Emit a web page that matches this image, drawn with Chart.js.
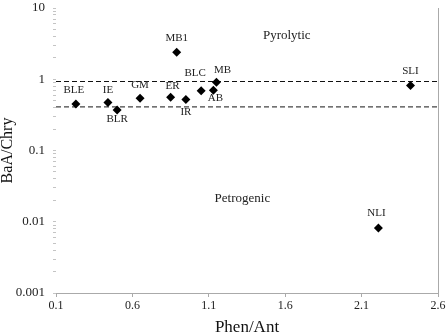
<!DOCTYPE html>
<html>
<head>
<meta charset="utf-8">
<script src="https://cdn.jsdelivr.net/npm/chart.js@4.4.0/dist/chart.umd.min.js"></script>
<style>
html, body { margin: 0; padding: 0; background: #fff; }
</style>
</head>
<body>
<canvas id="ratio_plot" width="448" height="336"></canvas>
<script>
const siteNames = ['BLE', 'IE', 'BLR', 'GM', 'ER', 'IR', 'BLC', 'AB', 'MB', 'MB1', 'SLI', 'NLI'];
const phenAnt = [0.23, 0.44, 0.50, 0.65, 0.85, 0.95, 1.05, 1.13, 1.15, 0.89, 2.42, 2.21];
const baaChry = [0.45, 0.47, 0.37, 0.54, 0.56, 0.52, 0.69, 0.70, 0.91, 2.39, 0.82, 0.0082];
const upperLimit = 0.93;
const lowerLimit = 0.41;
const xTicks = [0.1, 0.6, 1.1, 1.6, 2.1, 2.6];
const yTicks = [0.001, 0.01, 0.1, 1, 10];
const zoneNames = ['Pyrolytic', 'Petrogenic'];
const zoneX = [1.61, 1.32];
const zoneY = [4.05, 0.021];

// label nudge in px from its point [dx, dy]
const labelShift = [[-2, -14], [0, -13], [0, 9], [0, -13], [2, -11], [0, 13],
    [-6, -18], [2, 8], [6, -12], [0, -14], [0, -14], [-2, -15]];

const serif = '"Liberation Serif", "Times New Roman", serif';

const textLabels = {
    id: 'textLabels',
    afterDatasetsDraw(chart) {
        const ctx = chart.ctx;
        const xs = chart.scales.x, ys = chart.scales.y;
        ctx.save();
        ctx.fillStyle = '#222';
        ctx.textAlign = 'center';
        ctx.textBaseline = 'middle';
        ctx.font = '11px ' + serif;
        siteNames.forEach((name, i) => {
            const px = xs.getPixelForValue(phenAnt[i]);
            const py = ys.getPixelForValue(baaChry[i]);
            ctx.fillText(name, px + labelShift[i][0], py + labelShift[i][1]);
        });
        ctx.font = '13px ' + serif;
        zoneNames.forEach((name, i) => {
            ctx.fillText(name, xs.getPixelForValue(zoneX[i]), ys.getPixelForValue(zoneY[i]));
        });
        ctx.restore();
    }
};

function limitLine(v, color) {
    return {
        type: 'line',
        data: [{x: xTicks[0], y: v}, {x: xTicks[xTicks.length - 1], y: v}],
        borderColor: color,
        borderWidth: 1.2,
        borderDash: [5, 3],
        pointRadius: 0,
        fill: false
    };
}

var ratio_plot = document.getElementById('ratio_plot').getContext('2d');
var ratio_plot = new Chart(ratio_plot, {
    type: 'scatter',
    data: {
        datasets: [{
            data: phenAnt.map((x, i) => ({x: x, y: baaChry[i]})),
            pointStyle: 'rectRot',
            pointRadius: 4.5,
            backgroundColor: '#000',
            borderWidth: 0
        },
        limitLine(upperLimit, '#111'),
        limitLine(lowerLimit, '#444')]
    },
    options: {
        responsive: false,
        animation: false,
        layout: { padding: { top: 8, right: 10, left: 0, bottom: 0 } },
        plugins: {
            legend: { display: false },
            tooltip: { enabled: false }
        },
        scales: {
            x: {
                type: 'linear',
                min: 0.1,
                max: 2.6,
                afterBuildTicks: s => { s.ticks = xTicks.map(v => ({value: v})); },
                afterFit: s => { s.height = 43; },
                grid: {
                    color: c => c.index === xTicks.length - 1 ? '#aaa' : 'rgba(0,0,0,0)',
                    tickColor: '#aaa',
                    tickLength: 4
                },
                border: { color: '#aaa' },
                ticks: {
                    autoSkip: false,
                    maxRotation: 0,
                    padding: 2,
                    color: '#222',
                    font: { family: serif, size: 12 },
                    callback: v => v.toFixed(1)
                },
                title: {
                    display: true,
                    text: 'Phen/Ant',
                    color: '#111',
                    padding: 0,
                    font: { family: serif, size: 17, lineHeight: 1 }
                }
            },
            y: {
                type: 'logarithmic',
                min: 0.001,
                max: 10,
                afterBuildTicks: s => {
                    const t = [];
                    yTicks.forEach((d, k) => {
                        for (let m = 1; m <= 9; m++) {
                            if (k === yTicks.length - 1 && m > 1) break;
                            t.push({value: m === 1 ? d : +(d * m).toPrecision(3), major: m === 1});
                        }
                    });
                    s.ticks = t;
                },
                afterFit: s => {
                    s.width = 56;
                    // tick padding is added to the top gap, undo it
                    s.paddingTop = 0;
                    s.paddingBottom = 0;
                },
                grid: { drawOnChartArea: false, color: '#c4c4c4', tickLength: 3 },
                border: { display: false },
                ticks: {
                    autoSkip: false,
                    padding: 8,
                    color: '#222',
                    font: { family: serif, size: 13 },
                    callback: v => yTicks.includes(v) ? String(v) : ''
                },
                title: {
                    display: true,
                    text: 'BaA/Chry',
                    color: '#111',
                    padding: 0,
                    font: { family: serif, size: 16, lineHeight: 1 }
                }
            }
        }
    },
    plugins: [textLabels]
});
</script>
</body>
</html>
